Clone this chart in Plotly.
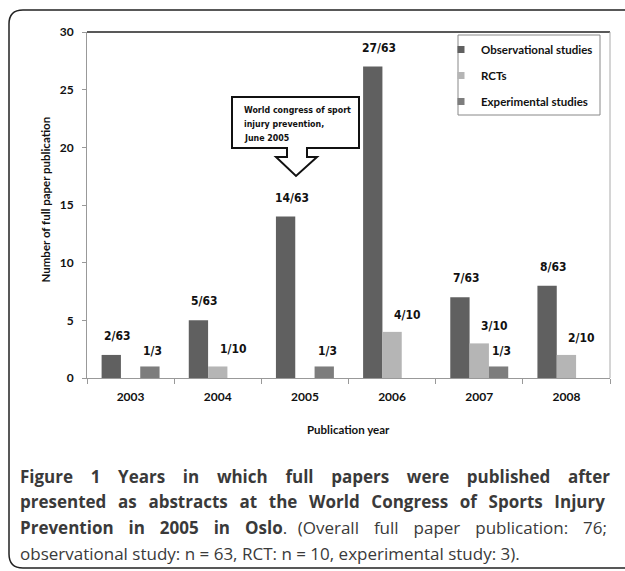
import plotly.graph_objects as go

# ---------------- data ----------------
years = ["2003", "2004", "2005", "2006", "2007", "2008"]
observational = [2, 5, 14, 27, 7, 8]
rcts = [0, 1, 0, 4, 3, 2]
experimental = [1, 0, 1, 0, 1, 0]
obs_labels = ["2/63", "5/63", "14/63", "27/63", "7/63", "8/63"]
rct_labels = ["", "1/10", "", "4/10", "3/10", "2/10"]
exp_labels = ["1/3", "", "1/3", "", "1/3", ""]
series_names = ["Observational studies", "RCTs", "Experimental studies"]
y_ticks = [0, 5, 10, 15, 20, 25, 30]

# ---------------- style ----------------
W, H = 625, 571
L, R, T, B = 87, 610, 32, 378  # plot area in pixels
col_obs, col_rct, col_exp = "#606060", "#b5b5b5", "#7d7d7d"
NARROW = "Liberation Sans Narrow, DejaVu Sans Condensed, Arial Narrow, Liberation Sans"
CAL = "Lato, Open Sans, sans-serif"
CAP = "Open Sans, Noto Sans, sans-serif"
NB, THIN, HAIR = "\u00a0", "\u2009", "\u200a"


def px(x):
    return (x - L) / (R - L)


def py(y):
    return (B - y) / (B - T)


fig = go.Figure()
for name, vals, col in zip(series_names, [observational, rcts, experimental],
                           [col_obs, col_rct, col_exp]):
    fig.add_trace(go.Bar(x=years, y=vals, name=name, marker_color=col,
                         marker_line_width=0, showlegend=False))
# legend entries (small square symbols), never visible in the plot area
for i, (name, col) in enumerate(zip(series_names, [col_obs, col_rct, col_exp])):
    fig.add_trace(go.Scatter(x=[years[0]], y=[-100], mode="markers", name=name,
                             legendgroup=str(i), hoverinfo="skip",
                             marker=dict(symbol="square", size=7, color=col)))

# data labels (x given as category index)
bar_px = (R - L) / len(years) * (1 - 0.335) / 3
label_font = dict(family=NARROW, size=12, color="#111", weight="bold")
for labels, vals, dx, dy in [(obs_labels, observational, -bar_px + 6, 19),
                             (rct_labels, rcts, 15, 17),
                             (exp_labels, experimental, bar_px + 3, 15)]:
    for i, (lab, v) in enumerate(zip(labels, vals)):
        if lab:
            fig.add_annotation(x=i, y=v, text=lab, showarrow=False,
                               xshift=dx, yshift=dy, font=label_font,
                               xanchor="center", yanchor="middle")

# plot-area borders (top black, right gray)
fig.add_shape(type="line", xref="paper", yref="paper", x0=0, x1=1, y0=1, y1=1,
              line=dict(color="#222", width=1.5))
fig.add_shape(type="line", xref="paper", yref="paper", x0=1, x1=1, y0=0, y1=1,
              line=dict(color="#aaa", width=1))

# legend box
fig.add_shape(type="rect", xref="paper", yref="paper",
              x0=px(458), x1=px(600), y0=py(115), y1=py(35),
              line=dict(color="#888", width=1), fillcolor="white", layer="below")

# callout box with arrow
pts = [(232, 97), (359, 97), (359, 148), (307, 148), (307, 157), (317, 157),
       (296, 176), (276, 157), (287, 157), (287, 148), (232, 148)]
path = "M " + " L ".join(f"{px(x):.5f},{py(y):.5f}" for x, y in pts) + " Z"
fig.add_shape(type="path", xref="paper", yref="paper", path=path,
              line=dict(color="#111", width=2), fillcolor="white")
for j, t in enumerate(["World congress of sport", "injury prevention,", "June 2005"]):
    fig.add_annotation(xref="paper", yref="paper", x=px(242), y=py(110 + 14 * j),
                       xanchor="left", yanchor="middle", showarrow=False, text=t,
                       font=dict(family=NARROW, size=8.8, color="#111", weight="bold"))

# outer rounded frame (right side runs off the picture)
x0f, y0f, x1f, y1f, r = 9, 10, 645, 568, 14
fp = [f"M {px(x0f + r)},{py(y0f)}",
      f"L {px(x1f - r)},{py(y0f)}",
      f"Q {px(x1f)},{py(y0f)} {px(x1f)},{py(y0f + r)}",
      f"L {px(x1f)},{py(y1f - r)}",
      f"Q {px(x1f)},{py(y1f)} {px(x1f - r)},{py(y1f)}",
      f"L {px(x0f + r)},{py(y1f)}",
      f"Q {px(x0f)},{py(y1f)} {px(x0f)},{py(y1f - r)}",
      f"L {px(x0f)},{py(y0f + r)}",
      f"Q {px(x0f)},{py(y0f)} {px(x0f + r)},{py(y0f)} Z"]
fig.add_shape(type="path", xref="paper", yref="paper", path=" ".join(fp),
              line=dict(color="#222", width=1.5))

# axis titles
fig.add_annotation(xref="paper", yref="paper", x=px(348), y=py(438),
                   text="Publication year", showarrow=False,
                   font=dict(family=CAL, size=11.5, color="#111", weight="bold"))
fig.add_annotation(xref="paper", yref="paper", x=px(36), y=py(200), textangle=-90,
                   text="Number of full paper publication", showarrow=False,
                   font=dict(family=CAL, size=11.5, color="#111", weight="bold"))


# caption (justified lines approximated with extra spaces)
def spread(text, gap):
    return (" " + gap).join(text.split(" "))


cap_lines = [
    "<b>" + spread("Figure 1 Years in which full papers were published after", NB * 3) + "</b>",
    "<b>" + spread("presented as abstracts at the World Congress of Sports Injury",
                   NB + THIN) + "</b>",
    "<b>" + spread("Prevention in 2005 in Oslo", NB * 2 + HAIR) + "</b>." + NB * 2 + HAIR
    + spread("(Overall full paper publication: 76;", NB * 2 + HAIR),
    "observational study: n = 63, RCT: n = 10, experimental study: 3).",
]
for i, line in enumerate(cap_lines):
    fig.add_annotation(xref="paper", yref="paper", x=px(18), y=py(476 + 25.7 * i),
                       xanchor="left", yanchor="middle", showarrow=False, text=line,
                       font=dict(family=CAP, size=17, color="#3a3a3a"))

fig.update_layout(
    width=W, height=H, barmode="group", bargap=0.335, bargroupgap=0,
    margin=dict(l=L, r=W - R, t=T, b=H - B, pad=0),
    plot_bgcolor="white", paper_bgcolor="white",
    showlegend=True,
    legend=dict(x=px(441), y=py(35), xanchor="left", yanchor="top",
                bgcolor="rgba(0,0,0,0)", borderwidth=0, tracegroupgap=7,
                font=dict(family=CAL, size=11.5, color="#111", weight="bold"),
                itemwidth=30),
    xaxis=dict(type="category", range=[-0.5, 5.5], showline=True, linecolor="#999",
               linewidth=1, ticks="outside", tickson="boundaries", ticklen=5,
               tickcolor="#999", showgrid=False, ticklabelstandoff=8,
               tickfont=dict(family=CAL, size=12, color="#111", weight="bold")),
    yaxis=dict(range=[0, 30], tickvals=y_ticks, showline=True, linecolor="#999",
               linewidth=1, ticks="outside", ticklen=4, tickcolor="#999",
               showgrid=False, zeroline=False, ticklabelstandoff=6,
               tickfont=dict(family=CAL, size=12, color="#111", weight="bold")),
)

fig.write_html("out.html", config={"displayModeBar": False},
               post_script="document.body.style.margin='0';")
